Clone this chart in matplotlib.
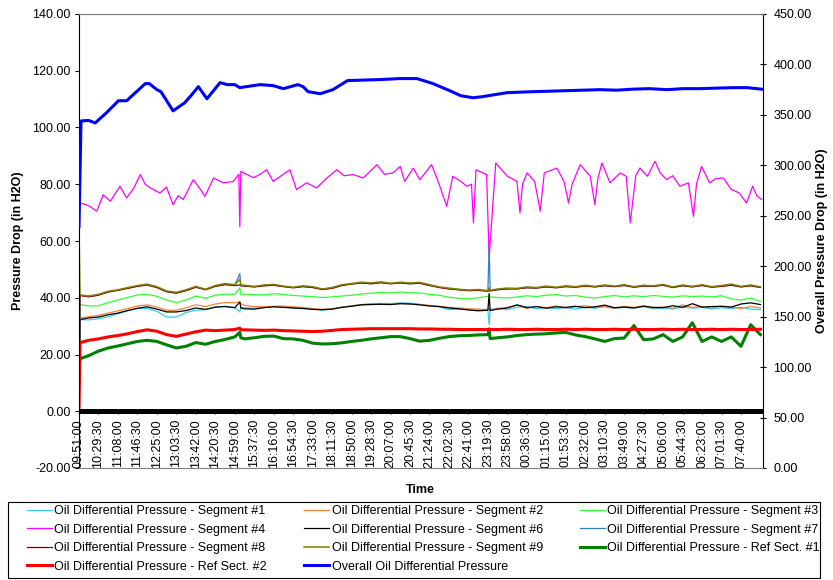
import matplotlib.pyplot as plt
from matplotlib.patches import Rectangle
import numpy as np

plt.rcParams['font.family'] = ['Liberation Sans', 'DejaVu Sans']
plt.rcParams['font.size'] = 9

# Time axis: minutes after 09:51:00, category labels every 38.5 min
tick_labels = ['09:51:00', '10:29:30', '11:08:00', '11:46:30', '12:25:00', '13:03:30',
               '13:42:00', '14:20:30', '14:59:00', '15:37:30', '16:16:00', '16:54:30',
               '17:33:00', '18:11:30', '18:50:00', '19:28:30', '20:07:00', '20:45:30',
               '21:24:00', '22:02:30', '22:41:00', '23:19:30', '23:58:00', '00:36:30',
               '01:15:00', '01:53:30', '02:32:00', '03:10:30', '03:49:00', '04:27:30',
               '05:06:00', '05:44:30', '06:23:00', '07:01:30', '07:40:00']
tick_step = 38.5
t_end = 1352.5

# sample times (min) for the segment series
t_seg = np.concatenate([[0, 2], np.arange(19.25, 308.1, 19.25), [318, 320],
                        np.arange(327.25, 808.6, 19.25), [811, 813],
                        np.arange(827.75, 1347.6, 19.25)])

seg1 = [0, 32.3,
        32.2, 32.6, 33.3, 34.4, 35.4, 36.2, 36.3, 35.2, 33.2, 33.2, 34.8, 35.6, 35.8, 36.7, 37.0, 36.5,
        35.0, 36.6,
        36.5, 36.3, 36.7, 36.9, 36.7, 36.4, 36.3, 36.0, 35.6, 36.0, 36.7, 37.2, 37.6, 37.9, 38.0, 37.9,
        38.2, 38.1, 37.7, 37.2, 36.8, 35.8, 36.0, 35.8, 35.8, 35.6,
        30.5, 35.8,
        36.3, 35.8, 36.7, 36.9, 36.1, 36.6, 36.2, 36.5, 36.0, 36.7, 36.3, 36.9, 36.2, 36.6, 36.4, 36.9,
        36.1, 36.4, 36.0, 36.8, 36.3, 36.6, 36.0, 36.5, 36.2, 36.6, 36.0, 35.8]
seg2 = [0, 32.9,
        33.3, 33.8, 34.6, 35.4, 36.2, 37.1, 37.5, 36.7, 35.6, 35.6, 36.5, 37.5, 36.9, 37.8, 38.3, 38.2,
        38.6, 37.9,
        37.3, 36.9, 36.8, 37.0, 37.1, 36.8, 36.6, 36.2, 35.9, 36.1, 36.7, 37.1, 37.5, 37.8, 37.9, 37.7,
        38.0, 37.9, 37.6, 37.3, 37.0, 36.6, 36.4, 36.1, 36.0, 35.8,
        36.3, 35.7,
        36.2, 36.6, 37.4, 36.3, 36.9, 36.5, 37.1, 36.4, 36.8, 37.2, 36.5, 36.9, 36.3, 37.0, 36.6, 37.2,
        36.4, 36.8, 36.3, 37.5, 36.6, 36.9, 36.4, 37.0, 36.7, 36.2, 36.9, 36.4]
seg3 = [0, 37.6,
        37.1, 37.2, 38.3, 39.2, 40.1, 41.0, 41.2, 40.5, 39.2, 38.3, 39.2, 40.6, 39.8, 40.9, 41.3, 41.2,
        43.5, 41.3,
        41.2, 41.1, 41.0, 41.4, 41.2, 40.8, 40.6, 40.4, 40.1, 40.3, 40.6, 40.9, 41.3, 41.6, 41.9, 41.7,
        42.0, 41.8, 41.7, 41.2, 40.9, 40.2, 39.8, 39.6, 40.0, 40.5,
        40.6, 40.3,
        40.1, 39.9, 40.3, 40.7, 40.4, 40.9, 41.1, 40.6, 40.8, 40.2, 39.9, 40.4, 40.8, 40.3, 40.7, 40.4,
        40.8, 40.5, 40.2, 40.7, 40.4, 40.6, 40.3, 40.7, 39.6, 39.2, 39.9, 38.7]
seg6 = [0, 32.3,
        32.9, 33.2, 34.0, 34.6, 35.5, 36.3, 36.8, 36.0, 35.0, 35.0, 35.5, 36.4, 35.9, 36.7, 36.9, 36.5,
        38.5, 36.4,
        36.1, 36.0, 36.5, 36.8, 36.6, 36.4, 36.2, 35.9, 35.8, 36.0, 36.6, 37.0, 37.5, 37.6, 37.7, 37.6,
        37.9, 37.8, 37.5, 37.1, 36.9, 36.4, 36.1, 35.7, 35.4, 35.6,
        41.5, 35.5,
        36.0, 36.4, 37.5, 36.5, 36.9, 36.3, 36.8, 36.6, 37.0, 36.5, 36.8, 37.4, 36.5, 36.7, 36.4, 37.0,
        36.6, 36.5, 37.2, 36.6, 37.9, 36.7, 36.9, 37.0, 36.7, 37.8, 38.2, 37.6]
seg7 = [0, 40.9,
        40.5, 41.0, 42.1, 42.7, 43.4, 44.1, 44.6, 43.7, 42.2, 41.7, 42.6, 43.8, 42.9, 44.1, 44.8, 44.4,
        48.5, 44.3,
        44.2, 43.9, 44.3, 44.5, 44.0, 43.6, 44.0, 43.7, 43.0, 43.4, 44.4, 44.9, 45.3, 45.0, 45.4, 45.0,
        45.3, 45.0, 45.2, 44.4, 43.7, 43.2, 42.9, 42.6, 42.7, 42.4,
        58.5, 42.5,
        42.9, 43.2, 43.2, 43.6, 43.5, 43.9, 43.6, 44.0, 43.8, 44.2, 43.9, 44.3, 44.0, 44.4, 43.8, 44.2,
        44.1, 44.5, 43.7, 44.3, 43.9, 44.4, 43.8, 44.1, 44.5, 43.9, 44.3, 43.7]
seg8 = [0, 40.8,
        40.3, 40.9, 42.0, 42.6, 43.3, 44.0, 44.5, 43.6, 42.1, 41.6, 42.5, 43.7, 42.8, 44.0, 44.6, 44.3,
        44.5, 44.2,
        44.1, 43.8, 44.2, 44.4, 43.9, 43.5, 43.9, 43.6, 42.9, 43.3, 44.3, 44.8, 45.2, 44.9, 45.3, 44.9,
        45.2, 44.9, 45.1, 44.3, 43.6, 43.1, 42.8, 42.5, 42.6, 42.3,
        42.5, 42.4,
        42.8, 43.1, 43.1, 43.5, 43.4, 43.8, 43.5, 43.9, 43.7, 44.1, 43.8, 44.2, 43.9, 44.3, 43.7, 44.1,
        44.0, 44.4, 43.6, 44.2, 43.8, 44.3, 43.7, 44.0, 44.4, 43.8, 44.2, 43.6]
seg9 = [65, 41.0,
        40.6, 41.2, 42.3, 42.8, 43.6, 44.3, 44.8, 43.9, 42.4, 41.9, 42.8, 44.0, 43.0, 44.3, 45.0, 44.6,
        46.5, 44.5,
        44.4, 44.0, 44.5, 44.7, 44.1, 43.7, 44.2, 43.9, 43.1, 43.6, 44.6, 45.0, 45.5, 45.2, 45.6, 45.1,
        45.5, 45.2, 45.4, 44.6, 43.8, 43.4, 43.0, 42.7, 42.9, 42.5,
        43.5, 42.6,
        43.1, 43.4, 43.3, 43.8, 43.6, 44.1, 43.7, 44.2, 43.9, 44.4, 44.0, 44.5, 44.1, 44.6, 43.9, 44.4,
        44.2, 44.7, 43.8, 44.5, 44.0, 44.6, 43.9, 44.3, 44.8, 44.0, 44.5, 43.8]
ref1 = [15.7, 18.5,
        19.6, 21.2, 22.3, 23.0, 23.8, 24.6, 25.0, 24.6, 23.4, 22.3, 22.9, 24.2, 23.6, 24.6, 25.3, 26.2,
        27.8, 25.9,
        25.5, 25.9, 26.4, 26.5, 25.6, 25.5, 25.0, 24.0, 23.7, 23.8, 24.1, 24.6, 25.0, 25.5, 25.9, 26.3,
        26.3, 25.6, 24.7, 25.0, 25.7, 26.3, 26.6, 26.7, 26.9, 27.0,
        28.3, 25.6,
        25.9, 26.2, 26.7, 27.0, 27.2, 27.3, 27.6, 27.8, 26.9, 26.3, 25.5, 24.6, 25.6, 25.8, 30.2, 25.2,
        25.5, 27.0, 24.6, 26.2, 31.2, 24.6, 26.2, 24.6, 26.2, 22.9, 30.5, 27.0]
ref2 = [0, 24.2,
        25.0, 25.5, 26.2, 26.7, 27.3, 28.1, 28.7, 28.2, 27.0, 26.4, 27.2, 28.0, 28.6, 28.4, 28.6, 28.8,
        29.3, 28.7,
        28.7, 28.6, 28.5, 28.6, 28.4, 28.3, 28.2, 28.1, 28.2, 28.5, 28.8, 28.9, 29.0, 29.1, 29.1, 29.1,
        29.1, 29.1, 29.0, 29.0, 28.9, 28.9, 28.8, 28.8, 28.8, 28.8,
        29.0, 28.8,
        28.8, 28.9, 28.8, 28.8, 28.9, 28.8, 28.8, 28.9, 28.8, 28.9, 28.8, 28.8, 28.9, 28.8, 28.9, 28.8,
        28.8, 28.9, 28.8, 28.9, 28.8, 28.8, 28.9, 28.8, 28.9, 28.8, 28.8, 28.9]

# Segment #4 (own sample times, min)
seg4_t = [2, 19, 35, 48, 62, 81, 94, 108, 121, 131,
          141, 160, 173, 186, 196, 206, 226, 239, 249, 266,
          285, 305, 316, 318, 320, 345, 358, 371, 384, 400,
          417, 430, 450, 470, 490, 510, 524, 542, 562, 589,
          604, 621, 635, 644, 661, 674, 697, 708, 717, 727,
          739, 755, 767, 776, 780, 785, 806, 811, 824, 847,
          860, 866, 872, 877, 886, 901, 912, 920, 945, 959,
          968, 975, 991, 1011, 1020, 1026, 1034, 1050, 1070, 1082,
          1090, 1101, 1109, 1124, 1139, 1149, 1162, 1174, 1188, 1205,
          1215, 1221, 1231, 1247, 1259, 1274, 1290, 1305, 1320, 1332,
          1340, 1350]
seg4 = [73.4, 72.5, 70.5, 76.3, 74.0, 79.3, 75.2, 78.5, 83.4, 80.0,
        78.7, 76.9, 79.0, 72.8, 76.0, 74.6, 81.6, 78.5, 75.7, 82.2,
        80.5, 81.0, 83.5, 65.0, 84.5, 82.3, 83.5, 85.1, 81.0, 83.0,
        85.1, 78.1, 80.5, 78.7, 82.2, 85.1, 83.0, 83.4, 82.2, 86.9,
        83.5, 84.0, 86.3, 81.0, 85.7, 81.6, 86.9, 82.0, 77.5, 72.2,
        82.8, 81.0, 79.3, 80.0, 66.4, 85.1, 83.4, 54.0, 87.5, 82.8,
        81.6, 81.0, 69.9, 80.0, 84.0, 81.0, 70.5, 84.0, 85.7, 81.0,
        73.4, 80.0, 86.9, 82.8, 72.8, 82.0, 87.5, 80.5, 84.0, 82.8,
        66.4, 83.0, 85.7, 82.8, 88.1, 84.0, 81.6, 83.0, 79.3, 80.5,
        68.7, 80.0, 86.3, 80.5, 82.0, 82.2, 78.1, 77.0, 73.4, 79.3,
        76.0, 74.6]

# Overall pressure (right axis)
overall_t = [0, 4, 19, 32, 54, 78, 94, 116, 131, 139,
             154, 162, 186, 209, 223, 236, 253, 279, 293, 308,
             318, 331, 358, 384, 404, 433, 443, 453, 477, 502,
             531, 595, 635, 668, 681, 700, 733, 755, 779, 797,
             846, 897, 932, 964, 997, 1030, 1063, 1095, 1128, 1163,
             1194, 1228, 1259, 1294, 1321, 1350]
overall = [239, 344, 344.5, 342, 352, 364, 364, 374, 381, 381,
           375, 373, 354, 362, 370, 378, 366, 382, 380, 380,
           377, 378, 380, 379, 376, 380, 378, 373, 371, 375,
           384, 385, 386, 386, 384, 381, 374, 369, 367, 368,
           372, 373, 373.5, 374, 374.5, 375, 374.5, 375.5, 376, 375,
           376, 376, 376.5, 377, 377, 375.5]

fig = plt.figure(figsize=(8.33, 5.8), dpi=100)
ax = fig.add_axes([79/833, 112/580, 684/833, 454/580])
ax2 = ax.twinx()

thin = 0.9
thick = 2.2
h = {}
h['s1'], = ax.plot(t_seg, seg1, color='#33CCFF', lw=thin, label='Oil Differential Pressure - Segment #1')
h['s2'], = ax.plot(t_seg, seg2, color='#FF8033', lw=thin, label='Oil Differential Pressure - Segment #2')
h['s3'], = ax.plot(t_seg, seg3, color='#33FF33', lw=thin, label='Oil Differential Pressure - Segment #3')
h['s4'], = ax.plot(seg4_t, seg4, color='#FF00FF', lw=thin, label='Oil Differential Pressure - Segment #4')
h['s6'], = ax.plot(t_seg, seg6, color='#000000', lw=thin, label='Oil Differential Pressure - Segment #6')
h['s7'], = ax.plot(t_seg, seg7, color='#3380CC', lw=thin, label='Oil Differential Pressure - Segment #7')
h['s8'], = ax.plot(t_seg, seg8, color='#800000', lw=thin, label='Oil Differential Pressure - Segment #8')
h['s9'], = ax.plot(t_seg, seg9, color='#808000', lw=thin + 0.2, label='Oil Differential Pressure - Segment #9')
h['r1'], = ax.plot(t_seg, ref1, color='#008000', lw=thick, label='Oil Differential Pressure - Ref Sect. #1')
h['r2'], = ax.plot(t_seg, ref2, color='#FF0000', lw=thick, label='Oil Differential Pressure - Ref Sect. #2')
h['ov'], = ax2.plot(overall_t, overall, color='#0000FF', lw=thick, label='Overall Oil Differential Pressure')
ax.axhline(0, color='black', lw=3.6, zorder=5)

# left axis (category axis crosses at 0)
ax.spines['bottom'].set_position(('data', 0))
ax.spines['bottom'].set_color('black')
ax.spines['top'].set_color('#808080')
ax.spines['right'].set_visible(False)
ax.spines['left'].set_linewidth(0.8)
ax.set_xlim(0, t_end)
ax.set_ylim(-20, 140)
ax.set_yticks(np.arange(-20, 141, 20))
ax.set_yticklabels([f'{v:.2f}' for v in np.arange(-20, 141, 20)])
ax.set_xticks(np.arange(len(tick_labels)) * tick_step)
ax.set_xticklabels(tick_labels)
ax.tick_params(axis='y', length=3, width=0.8, pad=3, labelsize=9)
ax.tick_params(axis='x', length=2, width=0.8, pad=3.5, labelsize=9, labelrotation=90)

# right axis
ax2.set_ylim(0, 450)
ax2.set_yticks(np.arange(0, 451, 50))
ax2.set_yticklabels([f'{v:.2f}' for v in np.arange(0, 451, 50)])
ax2.tick_params(axis='y', direction='inout', length=5, width=0.8, pad=5, labelsize=9)
ax2.spines['left'].set_visible(False)
ax2.spines['top'].set_color('#808080')
ax2.spines['bottom'].set_color('#808080')
ax2.spines['right'].set_linewidth(0.8)

fig.text(18/833, 1 - 241/580, 'Pressure Drop (in H2O)', rotation=90, ha='center', va='center',
         fontsize=9, fontweight='bold')
fig.text(822/833, 1 - 241/580, 'Overall Pressure Drop (in H2O)', rotation=90, ha='center',
         va='center', fontsize=9, fontweight='bold')
fig.text(420/833, 1 - 490/580, 'Time', ha='center', va='center', fontsize=9, fontweight='bold')

# legend (Excel-style box drawn separately)
fig.patches.append(Rectangle((8/833, 2/580), 812/833, 76/580, transform=fig.transFigure,
                             fill=False, edgecolor='black', linewidth=0.8))
order = ['s1', 's4', 's8', 'r2', 's2', 's6', 's9', 'ov', 's3', 's7', 'r1']
leg = fig.legend([h[k] for k in order], [h[k].get_label() for k in order],
                 loc='upper left', bbox_to_anchor=(27/833, 1 - 505/580),
                 ncol=3, fontsize=9, frameon=False,
                 handlelength=2.0, handletextpad=0.2, labelspacing=0.52, borderpad=0,
                 borderaxespad=0, columnspacing=2.95)

fig.savefig('out.png', dpi=100, facecolor='white')
